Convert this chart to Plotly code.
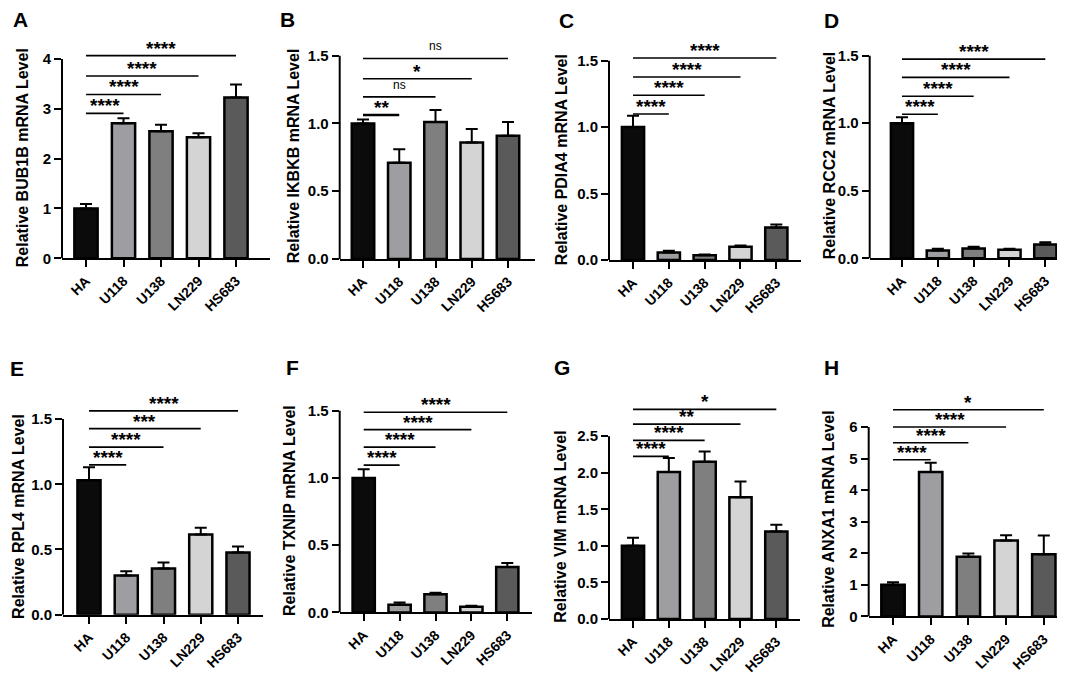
import plotly.graph_objects as go

W, H = 1065, 673
FONT = "Liberation Sans, Arial, sans-serif"

categories = ["HA", "U118", "U138", "LN229", "HS683"]
bar_colors = ["#0b0b0b", "#9e9da2", "#7f7f7f", "#d4d4d4", "#5a5a5a"]

letters = ["A", "B", "C", "D", "E", "F", "G", "H"]
genes = ["BUB1B", "IKBKB", "PDIA4", "RCC2", "RPL4", "TXNIP", "VIM", "ANXA1"]

bub1b_mean = [1.00, 2.71, 2.55, 2.43, 3.23]
bub1b_err = [0.09, 0.10, 0.13, 0.08, 0.26]
ikbkb_mean = [1.00, 0.71, 1.01, 0.86, 0.91]
ikbkb_err = [0.03, 0.10, 0.09, 0.10, 0.10]
pdia4_mean = [1.00, 0.057, 0.035, 0.099, 0.245]
pdia4_err = [0.085, 0.012, 0.006, 0.010, 0.022]
rcc2_mean = [1.00, 0.057, 0.073, 0.063, 0.102]
rcc2_err = [0.045, 0.013, 0.012, 0.008, 0.016]
rpl4_mean = [1.03, 0.30, 0.355, 0.615, 0.477]
rpl4_err = [0.10, 0.033, 0.046, 0.052, 0.046]
txnip_mean = [1.00, 0.057, 0.135, 0.042, 0.338]
txnip_err = [0.066, 0.016, 0.012, 0.007, 0.030]
vim_mean = [1.00, 2.01, 2.15, 1.665, 1.196]
vim_err = [0.11, 0.19, 0.14, 0.215, 0.094]
anxa1_mean = [1.00, 4.57, 1.89, 2.40, 1.97]
anxa1_err = [0.085, 0.30, 0.10, 0.17, 0.59]

means = [bub1b_mean, ikbkb_mean, pdia4_mean, rcc2_mean, rpl4_mean, txnip_mean, vim_mean, anxa1_mean]
errs = [bub1b_err, ikbkb_err, pdia4_err, rcc2_err, rpl4_err, txnip_err, vim_err, anxa1_err]

# significance vs HA for U118, U138, LN229, HS683
sig_targets = [1, 2, 3, 4]
sig_labels = [
    ["****", "****", "****", "****"],
    ["**", "ns", "*", "ns"],
    ["****", "****", "****", "****"],
    ["****", "****", "****", "****"],
    ["****", "****", "***", "****"],
    ["****", "****", "****", "****"],
    ["****", "****", "**", "*"],
    ["****", "****", "****", "*"],
]
sig_heights = [
    [2.91, 3.29, 3.66, 4.07],
    [1.063, 1.196, 1.33, 1.48],
    [1.099, 1.24, 1.377, 1.52],
    [1.067, 1.20, 1.34, 1.475],
    [1.149, 1.285, 1.427, 1.563],
    [1.096, 1.23, 1.36, 1.49],
    [2.223, 2.442, 2.665, 2.866],
    [4.96, 5.50, 6.00, 6.545],
]
tick_max = [4, 1.5, 1.5, 1.5, 1.5, 1.5, 2.5, 6]
tick_step = [1, 0.5, 0.5, 0.5, 0.5, 0.5, 0.5, 1]
tick_fmt = ["d", ".1f", ".1f", ".1f", ".1f", ".1f", ".1f", "d"]

# pixel geometry of each panel: axis left, axis right, first bar centre, bar spacing,
# pixel of y=0, pixel of top tick, top of plotting area
geom = [
    (54, 262, 78, 37.5, 253.3, 51.7, 22),
    (331.7, 526.7, 355, 36.25, 254, 48.3, 22),
    (601, 793, 625, 35.83, 255, 53.3, 22),
    (861.7, 1062, 894, 35.83, 253.3, 48.3, 22),
    (55, 255, 81, 37.25, 614, 416, 382),
    (331.7, 524, 355.7, 35.9, 611.7, 407.7, 382),
    (601, 791.7, 625, 35.83, 618.3, 433.3, 382),
    (860.7, 1062, 885, 37.7, 615.7, 424, 382),
]
letter_pos = [(12, 12), (279, 12), (558, 13), (823, 13), (9, 365), (284, 364), (554, 364), (823, 364)]
title_pos = [(14, 152), (285, 150), (553, 154), (821, 150), (11, 515), (282, 509), (553, 525), (821, 517)]

fig = go.Figure()
shapes = []
annotations = []
layout = {}

for i in range(8):
    n = "" if i == 0 else str(i + 1)
    left, right, ha, sp, y0, tpx, top = geom[i]
    xr = [-(ha - left) / sp, (right - ha) / sp]
    yr_top = tick_max[i] * (y0 - top) / (y0 - tpx)
    fig.add_trace(go.Bar(
        x=categories, y=means[i], xaxis="x" + n, yaxis="y" + n,
        width=0.62,
        marker=dict(color=bar_colors, line=dict(color="black", width=2.5)),
        error_y=dict(type="data", symmetric=False, array=errs[i],
                     arrayminus=[0] * 5, color="black", thickness=2, width=6),
        showlegend=False,
    ))
    nt = int(round(tick_max[i] / tick_step[i]))
    tv = [k * tick_step[i] for k in range(nt + 1)]
    layout["xaxis" + n] = dict(
        domain=[left / W, right / W], anchor="y" + n, range=xr,
        type="category", showline=True, linecolor="black", linewidth=2,
        ticks="outside", ticklen=7, tickwidth=2, tickcolor="black",
        tickangle=-45, showgrid=False, zeroline=False,
        tickfont=dict(family=FONT, size=14, color="black", weight="bold"),
    )
    layout["yaxis" + n] = dict(
        domain=[1 - y0 / H, 1 - top / H], anchor="x" + n, range=[0, yr_top],
        showline=False, tickvals=tv, tickformat=tick_fmt[i],
        ticks="outside", ticklen=7, tickwidth=2, tickcolor="black",
        showgrid=False, zeroline=False,
        tickfont=dict(family=FONT, size=15, color="black", weight="bold"),
    )
    # y axis line ends at top tick
    shapes.append(dict(type="line", xref="x" + n + " domain", yref="y" + n,
                       x0=0, x1=0, y0=0, y1=tick_max[i],
                       line=dict(color="black", width=2)))
    for t, lab, h in zip(sig_targets, sig_labels[i], sig_heights[i]):
        lw = 2.5 if (i == 1 and t == 1) else 1.6
        shapes.append(dict(type="line", xref="x" + n, yref="y" + n,
                           x0=0, x1=t, y0=h, y1=h,
                           line=dict(color="black", width=lw)))
        if lab == "ns":
            annotations.append(dict(x=t / 2, y=h, xref="x" + n, yref="y" + n,
                                    text=lab, showarrow=False, yanchor="bottom", yshift=3,
                                    font=dict(family=FONT, size=12, color="black")))
        else:
            annotations.append(dict(x=t / 2, y=h, xref="x" + n, yref="y" + n,
                                    text=lab, showarrow=False, yanchor="bottom", yshift=-5,
                                    font=dict(family=FONT, size=19, color="black", weight="bold")))
    lx, ly = letter_pos[i]
    annotations.append(dict(x=lx / W, y=1 - ly / H, xref="paper", yref="paper",
                            text=letters[i], showarrow=False, xanchor="center", yanchor="middle",
                            font=dict(family=FONT, size=21, color="black", weight="bold")))
    tx, ty = title_pos[i]
    annotations.append(dict(x=tx / W, y=1 - ty / H, xref="paper", yref="paper",
                            text="Relative " + genes[i] + " mRNA Level", textangle=-90,
                            showarrow=False, xanchor="center", yanchor="middle",
                            font=dict(family=FONT, size=16, color="black", weight="bold")))

fig.update_layout(
    width=W, height=H, margin=dict(l=0, r=0, t=0, b=0),
    paper_bgcolor="white", plot_bgcolor="white",
    shapes=shapes, annotations=annotations, bargap=0.38,
    **layout,
)
fig.write_html("out.html")
